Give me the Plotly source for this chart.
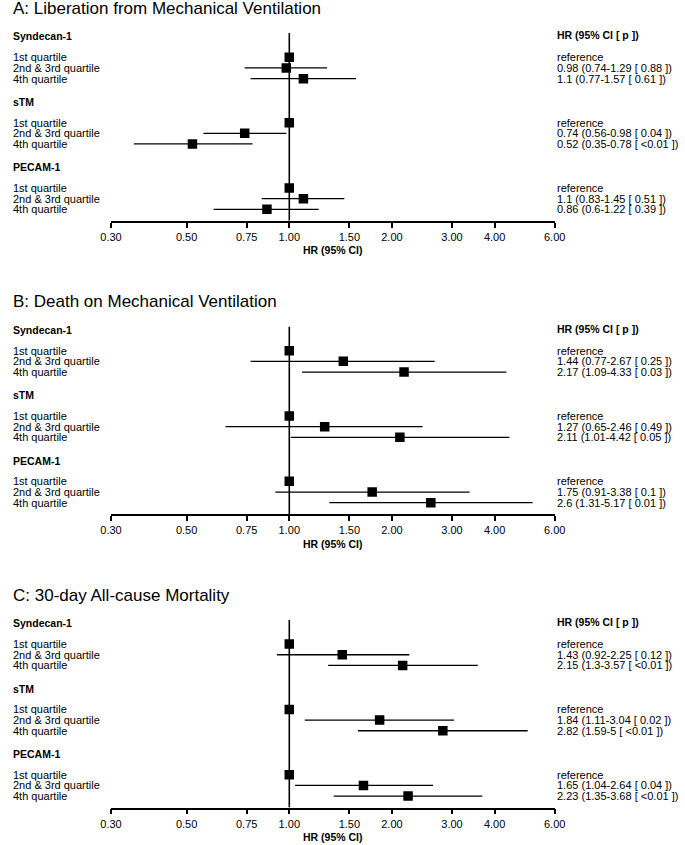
import math
import plotly.graph_objects as go

# ---------------- data ----------------
panel_titles = ["A: Liberation from Mechanical Ventilation",
                "B: Death on Mechanical Ventilation",
                "C: 30-day All-cause Mortality"]
groups = ["Syndecan-1", "sTM", "PECAM-1"]
levels = ["1st quartile", "2nd & 3rd quartile", "4th quartile"]

# hazard ratios (1st quartile = reference)
hr_A = [[1, 0.98, 1.1], [1, 0.74, 0.52], [1, 1.1, 0.86]]
lo_A = [[None, 0.74, 0.77], [None, 0.56, 0.35], [None, 0.83, 0.6]]
hi_A = [[None, 1.29, 1.57], [None, 0.98, 0.78], [None, 1.45, 1.22]]
p_A = [[None, "0.88", "0.61"], [None, "0.04", "<0.01"], [None, "0.51", "0.39"]]

hr_B = [[1, 1.44, 2.17], [1, 1.27, 2.11], [1, 1.75, 2.6]]
lo_B = [[None, 0.77, 1.09], [None, 0.65, 1.01], [None, 0.91, 1.31]]
hi_B = [[None, 2.67, 4.33], [None, 2.46, 4.42], [None, 3.38, 5.17]]
p_B = [[None, "0.25", "0.03"], [None, "0.49", "0.05"], [None, "0.1", "0.01"]]

hr_C = [[1, 1.43, 2.15], [1, 1.84, 2.82], [1, 1.65, 2.23]]
lo_C = [[None, 0.92, 1.3], [None, 1.11, 1.59], [None, 1.04, 1.35]]
hi_C = [[None, 2.25, 3.57], [None, 3.04, 5], [None, 2.64, 3.68]]
p_C = [[None, "0.12", "<0.01"], [None, "0.02", "<0.01"], [None, "0.04", "<0.01"]]

tick_vals = [0.3, 0.5, 0.75, 1, 1.5, 2, 3, 4, 6]
tick_text = ["0.30", "0.50", "0.75", "1.00", "1.50", "2.00", "3.00", "4.00", "6.00"]

panels = [(hr_A, lo_A, hi_A, p_A), (hr_B, lo_B, hi_B, p_B), (hr_C, lo_C, hi_C, p_C)]

# ---------------- layout constants (pixels) ----------------
W, H = 685, 845
FONT = "Liberation Sans, Arial, sans-serif"
UNIT = 10.667          # px per row
ROW0_PX = 57.3         # first row of panel A
TOP_PX = 33.0          # top of vertical line, panel A
AXIS_PX = 220.7        # axis line, panel A
PANEL_STEP = 293.4
GROUP_STEP = 6.125     # rows between groups
HEADER_OFF = -1.95     # group header offset (rows)
TITLE_PX = 8.5
COLHDR_PX = 35.5
XLAB_PX = 250.5
X_LEFT, X_RIGHT = 103.3, 561.7
TEXT_X = 0
RTEXT_X = 562

def paper_y(px):
    return 1 - px / H

y_top = (TOP_PX - ROW0_PX) / UNIT
y_bot = (AXIS_PX - ROW0_PX) / UNIT

def fmt(v):
    return f"{v:g}"

fig = go.Figure()
annotations = []
layout_axes = {}

for pi, (hr, lo, hi, pv) in enumerate(panels):
    off = pi * PANEL_STEP
    sfx = "" if pi == 0 else str(pi + 1)
    xa, ya = "x" + sfx, "y" + sfx

    # reference line at HR = 1
    fig.add_trace(go.Scatter(x=[1, 1], y=[y_top, y_bot], mode="lines",
                             line=dict(color="black", width=1.6),
                             xaxis=xa, yaxis=ya, hoverinfo="skip"))
    cx, cy, mx, my = [], [], [], []
    for gi, g in enumerate(groups):
        base = gi * GROUP_STEP
        annotations.append(dict(text="<b>" + g + "</b>", x=TEXT_X / W, xref="paper",
                                y=base + HEADER_OFF, yref=ya, xanchor="left",
                                yanchor="middle", showarrow=False,
                                font=dict(family=FONT, size=10.5, color="black")))
        for li, lev in enumerate(levels):
            pos = base + li
            annotations.append(dict(text=lev, x=TEXT_X / W, xref="paper",
                                    y=pos, yref=ya, xanchor="left", yanchor="middle",
                                    showarrow=False,
                                    font=dict(family=FONT, size=11, color="black")))
            if lo[gi][li] is None:
                rtxt = "reference"
            else:
                rtxt = f"{fmt(hr[gi][li])} ({fmt(lo[gi][li])}-{fmt(hi[gi][li])} [ {pv[gi][li]} ])"
                cx += [lo[gi][li], hi[gi][li], None]
                cy += [pos, pos, None]
            annotations.append(dict(text=rtxt, x=RTEXT_X / W, xref="paper",
                                    y=pos, yref=ya, xanchor="left", yanchor="middle",
                                    showarrow=False,
                                    font=dict(family=FONT, size=11, color="black")))
            mx.append(hr[gi][li])
            my.append(pos)
    fig.add_trace(go.Scatter(x=cx, y=cy, mode="lines",
                             line=dict(color="black", width=1.3),
                             xaxis=xa, yaxis=ya, hoverinfo="skip"))
    fig.add_trace(go.Scatter(x=mx, y=my, mode="markers",
                             marker=dict(symbol="square", size=9.5, color="black",
                                         line=dict(width=0)),
                             xaxis=xa, yaxis=ya, hoverinfo="skip"))

    # titles and headers
    annotations.append(dict(text=panel_titles[pi], x=TEXT_X / W, xref="paper",
                            y=paper_y(TITLE_PX + off), yref="paper",
                            xanchor="left", yanchor="middle", showarrow=False,
                            font=dict(family=FONT, size=17, color="black")))
    annotations.append(dict(text="<b>HR (95% CI [ p ])</b>", x=RTEXT_X / W, xref="paper",
                            y=paper_y(COLHDR_PX + off), yref="paper",
                            xanchor="left", yanchor="middle", showarrow=False,
                            font=dict(family=FONT, size=10.5, color="black")))
    annotations.append(dict(text="<b>HR (95% CI)</b>",
                            x=(X_LEFT + X_RIGHT) / 2 / W, xref="paper",
                            y=paper_y(XLAB_PX + off), yref="paper",
                            xanchor="center", yanchor="middle", showarrow=False,
                            font=dict(family=FONT, size=10.5, color="black")))

    dom = [paper_y(AXIS_PX + off), paper_y(TOP_PX + off)]
    layout_axes["xaxis" + sfx] = dict(
        type="log", range=[math.log10(0.3), math.log10(6)],
        domain=[X_LEFT / W, X_RIGHT / W], anchor=ya,
        tickvals=tick_vals, ticktext=tick_text, ticks="outside",
        ticklen=5, tickwidth=1.5, tickcolor="black",
        showline=True, linecolor="black", linewidth=1.6,
        showgrid=False, zeroline=False,
        tickfont=dict(family=FONT, size=11, color="black"))
    layout_axes["yaxis" + sfx] = dict(
        range=[y_bot, y_top], domain=dom, anchor=xa, visible=False,
        showgrid=False, zeroline=False)

fig.update_layout(width=W, height=H, margin=dict(l=0, r=0, t=0, b=0),
                  paper_bgcolor="white", plot_bgcolor="white",
                  showlegend=False, annotations=annotations, hovermode=False,
                  font=dict(family=FONT, color="black"), **layout_axes)

fig.write_html("out.html", config={"displayModeBar": False},
               post_script="document.body.style.margin='0';"
                           "document.body.style.overflow='hidden';")
